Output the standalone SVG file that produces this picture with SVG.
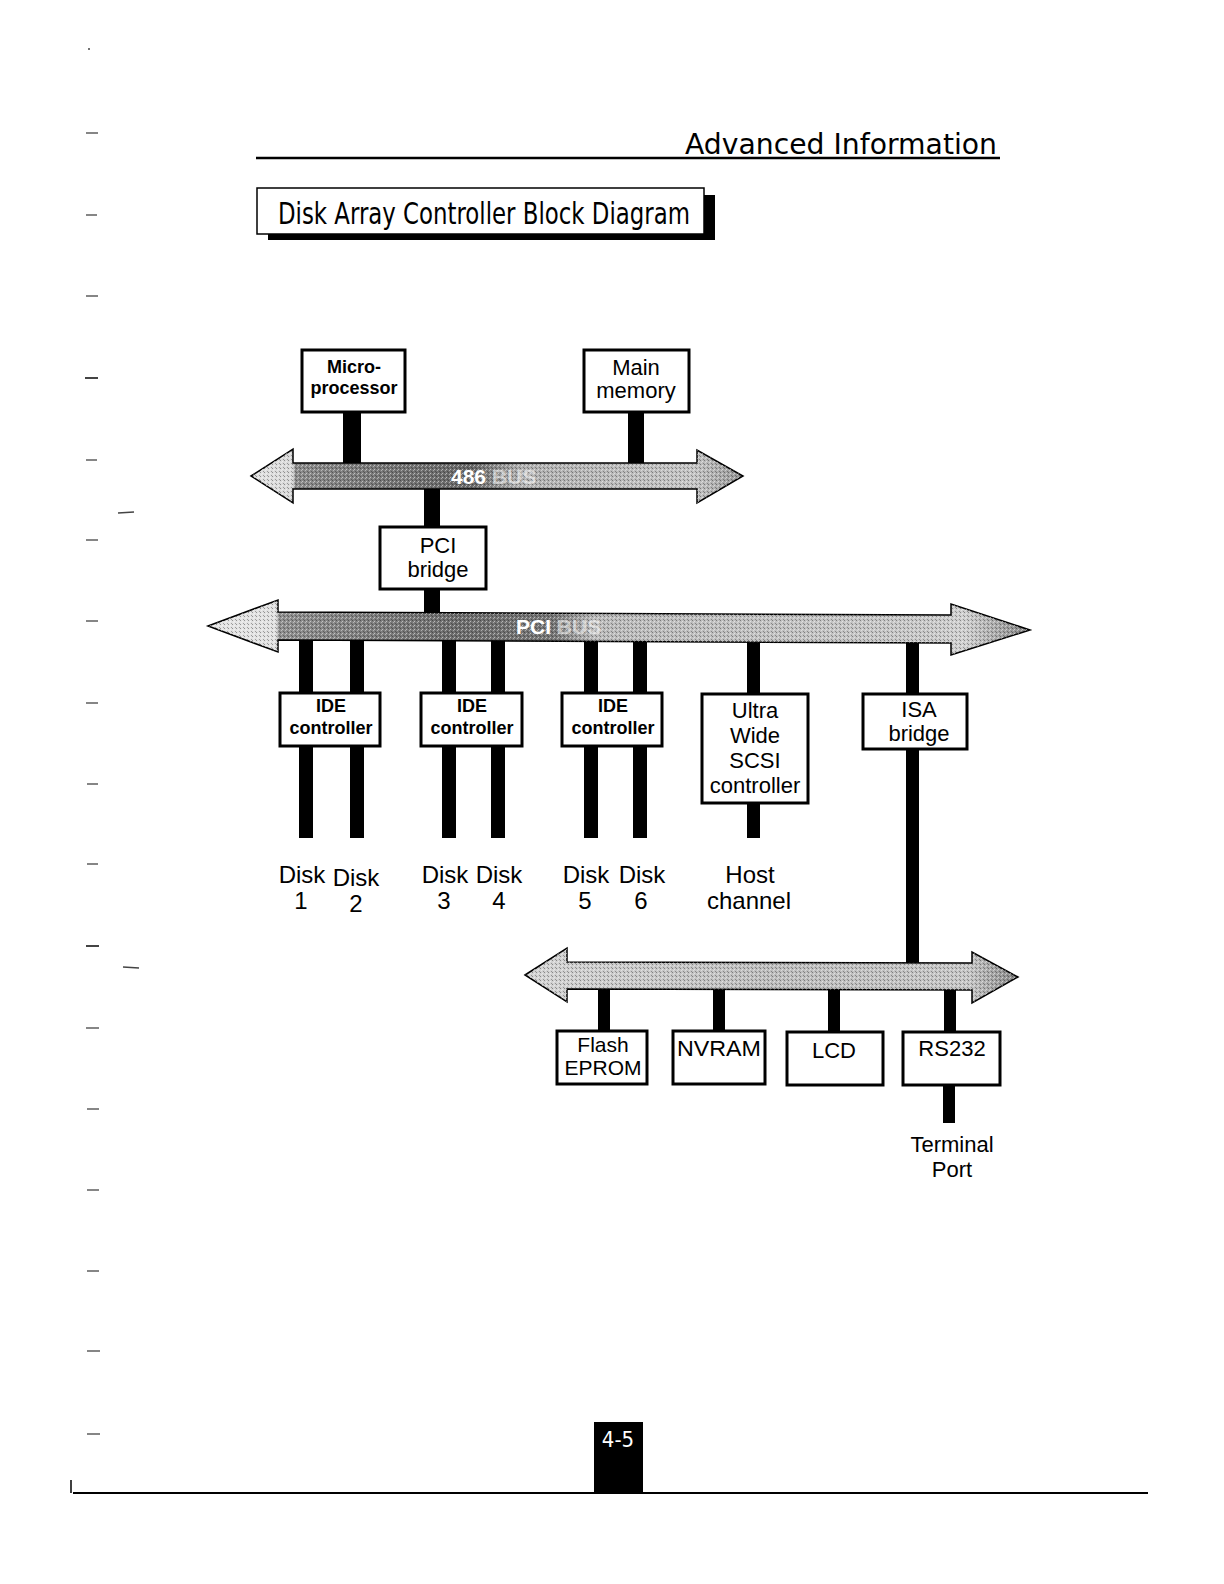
<svg xmlns="http://www.w3.org/2000/svg" width="1224" height="1584" viewBox="0 0 1224 1584">
<defs>
<style>
.box{fill:#fff;stroke:#000;stroke-width:3}
.t{font-family:"Liberation Sans",Arial,sans-serif;font-size:22px;fill:#000;text-anchor:middle}
.b{font-family:"Liberation Sans",Arial,sans-serif;font-size:18px;font-weight:bold;fill:#000;text-anchor:middle}
.lbl{font-family:"Liberation Sans",Arial,sans-serif;font-size:24px;fill:#000;text-anchor:middle}
.bus{stroke:#000;stroke-width:1.5}
.bt{font-family:"Liberation Sans",Arial,sans-serif;font-size:21px;font-weight:bold;fill:#fff}
.mk{stroke:#444;stroke-width:1.3}
</style>
<pattern id="stip" width="4" height="4" patternUnits="userSpaceOnUse">
<rect x="0" y="0" width="1" height="1" fill="#000" opacity="0.35"/>
<rect x="2" y="1" width="1" height="1" fill="#fff" opacity="0.5"/>
<rect x="1" y="2" width="1" height="1" fill="#fff" opacity="0.4"/>
<rect x="3" y="3" width="1" height="1" fill="#000" opacity="0.3"/>
</pattern>
<linearGradient id="g486" gradientUnits="userSpaceOnUse" x1="251" y1="0" x2="743" y2="0">
<stop offset="0" stop-color="#e2e2e2"/>
<stop offset="0.085" stop-color="#d8d8d8"/>
<stop offset="0.09" stop-color="#8c8c8c"/>
<stop offset="0.3" stop-color="#747474"/>
<stop offset="0.45" stop-color="#686868"/>
<stop offset="0.55" stop-color="#b0b0b0"/>
<stop offset="0.9" stop-color="#c4c4c4"/>
<stop offset="1" stop-color="#969696"/>
</linearGradient>
<linearGradient id="gpci" gradientUnits="userSpaceOnUse" x1="208" y1="0" x2="1030" y2="0">
<stop offset="0" stop-color="#e6e6e6"/>
<stop offset="0.083" stop-color="#e0e0e0"/>
<stop offset="0.086" stop-color="#909090"/>
<stop offset="0.3" stop-color="#6e6e6e"/>
<stop offset="0.42" stop-color="#767676"/>
<stop offset="0.47" stop-color="#bababa"/>
<stop offset="0.88" stop-color="#c8c8c8"/>
<stop offset="0.92" stop-color="#d0d0d0"/>
<stop offset="1" stop-color="#848484"/>
</linearGradient>
<linearGradient id="gisa" gradientUnits="userSpaceOnUse" x1="525" y1="0" x2="1018" y2="0">
<stop offset="0" stop-color="#d4d4d4"/>
<stop offset="0.5" stop-color="#bdbdbd"/>
<stop offset="0.9" stop-color="#c6c6c6"/>
<stop offset="1" stop-color="#858585"/>
</linearGradient>
</defs>
<rect width="1224" height="1584" fill="#fff"/>

<g id="margin-marks">
<line class="mk" x1="88" y1="49" x2="90" y2="49"/>
<line class="mk" x1="86" y1="133" x2="98" y2="133"/>
<line class="mk" x1="86" y1="215" x2="97" y2="215"/>
<line class="mk" x1="86" y1="296" x2="98" y2="296"/>
<line class="mk" x1="85" y1="378" x2="98" y2="378" style="stroke-width:2"/>
<line class="mk" x1="86" y1="460" x2="97" y2="460"/>
<line class="mk" x1="118" y1="513" x2="134" y2="512"/>
<line class="mk" x1="86" y1="540" x2="98" y2="540"/>
<line class="mk" x1="86" y1="621" x2="98" y2="621"/>
<line class="mk" x1="86" y1="703" x2="98" y2="703"/>
<line class="mk" x1="87" y1="784" x2="98" y2="784"/>
<line class="mk" x1="87" y1="864" x2="98" y2="864"/>
<line class="mk" x1="86" y1="946" x2="99" y2="946" style="stroke-width:2"/>
<line class="mk" x1="123" y1="967" x2="139" y2="968"/>
<line class="mk" x1="86" y1="1028" x2="99" y2="1028"/>
<line class="mk" x1="87" y1="1109" x2="99" y2="1109"/>
<line class="mk" x1="87" y1="1190" x2="99" y2="1190"/>
<line class="mk" x1="87" y1="1271" x2="99" y2="1271"/>
<line class="mk" x1="87" y1="1351" x2="100" y2="1351"/>
<line class="mk" x1="87" y1="1434" x2="100" y2="1434"/>
</g>

<g id="header">
<text x="997" y="154" text-anchor="end" font-family="DejaVu Sans, sans-serif" font-size="29" textLength="312" lengthAdjust="spacingAndGlyphs" fill="#000">Advanced Information</text>
<line x1="256" y1="158" x2="1000" y2="158" stroke="#000" stroke-width="2.5"/>
</g>

<g id="title">
<rect x="268" y="195" width="447" height="45" fill="#000"/>
<rect x="257" y="188" width="447" height="46" fill="#fff" stroke="#000" stroke-width="1.5"/>
<text x="278" y="224" font-family="DejaVu Sans, sans-serif" font-stretch="condensed" font-size="30" textLength="412" lengthAdjust="spacingAndGlyphs" fill="#000">Disk Array Controller Block Diagram</text>
</g>

<g id="connectors" fill="#000">
<rect x="343" y="411" width="18" height="53"/>
<rect x="628" y="411" width="16" height="53"/>
<rect x="424" y="488" width="16" height="40"/>
<rect x="424" y="588" width="16" height="26"/>
<rect x="299" y="639" width="14" height="199"/>
<rect x="350" y="639" width="14" height="199"/>
<rect x="442" y="639" width="14" height="199"/>
<rect x="491" y="639" width="14" height="199"/>
<rect x="584" y="640" width="14" height="198"/>
<rect x="633" y="640" width="14" height="198"/>
<rect x="747" y="641" width="13" height="54"/>
<rect x="747" y="802" width="13" height="36"/>
<rect x="906" y="642" width="13" height="322"/>
<rect x="598" y="988" width="12" height="44"/>
<rect x="713" y="988" width="12" height="44"/>
<rect x="828" y="988" width="12" height="44"/>
<rect x="944" y="988" width="12" height="44"/>
<rect x="943" y="1083" width="12" height="40"/>
</g>

<g id="bus-486">
<polygon class="bus" fill="url(#g486)" points="251,476 293,449 293,463 697,463 697,450 743,476 697,503 697,489 293,489 293,503"/>
<polygon fill="url(#stip)" points="251,476 293,449 293,463 697,463 697,450 743,476 697,503 697,489 293,489 293,503"/>
<text class="bt" x="451" y="484">486 <tspan fill-opacity="0.55">BUS</tspan></text>
</g>

<g id="bus-pci">
<polygon class="bus" fill="url(#gpci)" points="208,626 278,600 278,612 951,615 951,604 1030,630 951,655 951,643 278,640 278,652"/>
<polygon fill="url(#stip)" points="208,626 278,600 278,612 951,615 951,604 1030,630 951,655 951,643 278,640 278,652"/>
<text class="bt" x="516" y="634">PCI <tspan fill-opacity="0.55">BUS</tspan></text>
</g>

<g id="bus-isa">
<polygon class="bus" fill="url(#gisa)" points="525,975 567,948 567,962 972,963 972,952 1018,977 972,1003 972,990 567,989 567,1002"/>
<polygon fill="url(#stip)" points="525,975 567,948 567,962 972,963 972,952 1018,977 972,1003 972,990 567,989 567,1002"/>
</g>

<g id="microprocessor">
<rect class="box" x="302" y="350" width="103" height="62"/>
<text class="b" x="354" y="373">Micro-</text>
<text class="b" x="354" y="394">processor</text>
</g>
<g id="main-memory">
<rect class="box" x="584" y="350" width="105" height="62"/>
<text class="t" x="636" y="375">Main</text>
<text class="t" x="636" y="398">memory</text>
</g>
<g id="pci-bridge">
<rect class="box" x="380" y="527" width="106" height="62"/>
<text class="t" x="438" y="553">PCI</text>
<text class="t" x="438" y="577">bridge</text>
</g>
<g id="ide-controller-1">
<rect class="box" x="280" y="693" width="100" height="53"/>
<text class="b" x="331" y="712">IDE</text>
<text class="b" x="331" y="734">controller</text>
</g>
<g id="ide-controller-2">
<rect class="box" x="421" y="693" width="101" height="53"/>
<text class="b" x="472" y="712">IDE</text>
<text class="b" x="472" y="734">controller</text>
</g>
<g id="ide-controller-3">
<rect class="box" x="562" y="693" width="100" height="53"/>
<text class="b" x="613" y="712">IDE</text>
<text class="b" x="613" y="734">controller</text>
</g>
<g id="scsi-controller">
<rect class="box" x="702" y="694" width="106" height="109"/>
<text class="t" x="755" y="718">Ultra</text>
<text class="t" x="755" y="743">Wide</text>
<text class="t" x="755" y="768">SCSI</text>
<text class="t" x="755" y="793">controller</text>
</g>
<g id="isa-bridge">
<rect class="box" x="863" y="694" width="104" height="55"/>
<text class="t" x="919" y="717">ISA</text>
<text class="t" x="919" y="741">bridge</text>
</g>
<g id="flash-eprom">
<rect class="box" x="557" y="1031" width="90" height="53"/>
<text class="t" x="603" y="1052" style="font-size:21px">Flash</text>
<text class="t" x="603" y="1075" style="font-size:21px">EPROM</text>
</g>
<g id="nvram">
<rect class="box" x="673" y="1031" width="92" height="53"/>
<text class="t" x="719" y="1056" textLength="84" lengthAdjust="spacingAndGlyphs">NVRAM</text>
</g>
<g id="lcd">
<rect class="box" x="787" y="1032" width="96" height="53"/>
<text class="t" x="834" y="1058">LCD</text>
</g>
<g id="rs232">
<rect class="box" x="903" y="1032" width="97" height="53"/>
<text class="t" x="952" y="1056">RS232</text>
</g>

<g id="labels">
<text class="lbl" x="302" y="883">Disk</text>
<text class="lbl" x="356" y="886">Disk</text>
<text class="lbl" x="301" y="909">1</text>
<text class="lbl" x="356" y="912">2</text>
<text class="lbl" x="445" y="883">Disk</text>
<text class="lbl" x="499" y="883">Disk</text>
<text class="lbl" x="444" y="909">3</text>
<text class="lbl" x="499" y="909">4</text>
<text class="lbl" x="586" y="883">Disk</text>
<text class="lbl" x="642" y="883">Disk</text>
<text class="lbl" x="585" y="909">5</text>
<text class="lbl" x="641" y="909">6</text>
<text class="lbl" x="750" y="883">Host</text>
<text class="lbl" x="749" y="909">channel</text>
<text class="t" x="952" y="1152">Terminal</text>
<text class="t" x="952" y="1177">Port</text>
</g>

<g id="footer">
<line x1="73" y1="1493" x2="1148" y2="1493" stroke="#000" stroke-width="2"/>
<line x1="71" y1="1480" x2="71" y2="1493" stroke="#000" stroke-width="1.5"/>
<rect x="594" y="1422" width="49" height="72" fill="#000"/>
<text x="618" y="1447" text-anchor="middle" font-family="DejaVu Sans, sans-serif" font-stretch="condensed" font-size="22" fill="#fff">4-5</text>
</g>
</svg>
